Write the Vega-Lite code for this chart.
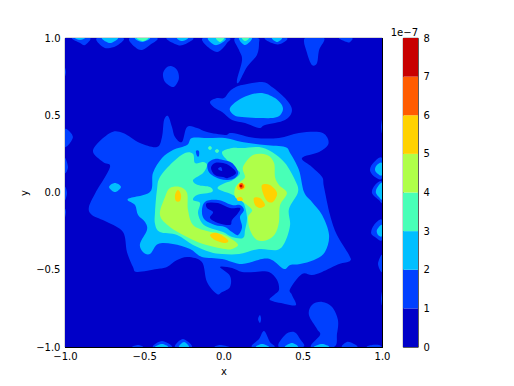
{"$schema":"https://vega.github.io/schema/vega-lite/v6.json","autosize":{"type":"pad"},"padding":{"left":19,"top":27,"right":60,"bottom":10},"background":"white","bounds":"flush","spacing":21,"config":{"font":"DejaVu Sans","view":{"stroke":"#000","strokeWidth":0.8}},
"hconcat":[{"width":317,"height":309,
"data":{"values":[
{"c":0,"l":0,"x":-1,"y":-1},{"c":0,"l":0,"x":-1,"y":1},{"c":0,"l":0,"x":1,"y":1},{"c":0,"l":0,"x":1,"y":-1},
{"c":1,"l":1,"x":-0.823,"y":0.275},{"c":1,"l":1,"x":-0.716,"y":0.385},{"c":1,"l":1,"x":-0.634,"y":0.385},{"c":1,"l":1,"x":-0.527,"y":0.32},{"c":1,"l":1,"x":-0.42,"y":0.294},{"c":1,"l":1,"x":-0.388,"y":0.359},{"c":1,"l":1,"x":-0.375,"y":0.469},{"c":1,"l":1,"x":-0.35,"y":0.495},{"c":1,"l":1,"x":-0.325,"y":0.424},{"c":1,"l":1,"x":-0.306,"y":0.359},{"c":1,"l":1,"x":-0.262,"y":0.327},{"c":1,"l":1,"x":-0.23,"y":0.424},{"c":1,"l":1,"x":-0.167,"y":0.417},{"c":1,"l":1,"x":-0.104,"y":0.391},{"c":1,"l":1,"x":0.009,"y":0.372},{"c":1,"l":1,"x":0.054,"y":0.385},{"c":1,"l":1,"x":0.199,"y":0.353},{"c":1,"l":1,"x":0.35,"y":0.353},{"c":1,"l":1,"x":0.476,"y":0.385},{"c":1,"l":1,"x":0.603,"y":0.391},{"c":1,"l":1,"x":0.653,"y":0.359},{"c":1,"l":1,"x":0.659,"y":0.307},{"c":1,"l":1,"x":0.603,"y":0.262},{"c":1,"l":1,"x":0.495,"y":0.223},{"c":1,"l":1,"x":0.558,"y":0.165},{"c":1,"l":1,"x":0.622,"y":0.1},{"c":1,"l":1,"x":0.634,"y":0.036},{"c":1,"l":1,"x":0.672,"y":-0.146},{"c":1,"l":1,"x":0.716,"y":-0.275},{"c":1,"l":1,"x":0.792,"y":-0.404},{"c":1,"l":1,"x":0.798,"y":-0.443},{"c":1,"l":1,"x":0.729,"y":-0.463},{"c":1,"l":1,"x":0.622,"y":-0.514},{"c":1,"l":1,"x":0.558,"y":-0.534},{"c":1,"l":1,"x":0.495,"y":-0.527},{"c":1,"l":1,"x":0.42,"y":-0.624},{"c":1,"l":1,"x":0.432,"y":-0.663},{"c":1,"l":1,"x":0.457,"y":-0.728},{"c":1,"l":1,"x":0.388,"y":-0.721},{"c":1,"l":1,"x":0.293,"y":-0.696},{"c":1,"l":1,"x":0.319,"y":-0.663},{"c":1,"l":1,"x":0.35,"y":-0.631},{"c":1,"l":1,"x":0.338,"y":-0.566},{"c":1,"l":1,"x":0.287,"y":-0.514},{"c":1,"l":1,"x":0.199,"y":-0.514},{"c":1,"l":1,"x":0.117,"y":-0.514},{"c":1,"l":1,"x":0.054,"y":-0.488},{"c":1,"l":1,"x":-0.022,"y":-0.482},{"c":1,"l":1,"x":0.041,"y":-0.54},{"c":1,"l":1,"x":0.041,"y":-0.611},{"c":1,"l":1,"x":-0.009,"y":-0.644},{"c":1,"l":1,"x":-0.041,"y":-0.657},{"c":1,"l":1,"x":-0.104,"y":-0.579},{"c":1,"l":1,"x":-0.136,"y":-0.45},{"c":1,"l":1,"x":-0.224,"y":-0.417},{"c":1,"l":1,"x":-0.293,"y":-0.437},{"c":1,"l":1,"x":-0.357,"y":-0.482},{"c":1,"l":1,"x":-0.42,"y":-0.495},{"c":1,"l":1,"x":-0.546,"y":-0.514},{"c":1,"l":1,"x":-0.571,"y":-0.482},{"c":1,"l":1,"x":-0.609,"y":-0.385},{"c":1,"l":1,"x":-0.634,"y":-0.256},{"c":1,"l":1,"x":-0.735,"y":-0.191},{"c":1,"l":1,"x":-0.83,"y":-0.146},{"c":1,"l":1,"x":-0.849,"y":-0.094},{"c":1,"l":1,"x":-0.805,"y":0.003},{"c":1,"l":1,"x":-0.798,"y":0.016},{"c":1,"l":1,"x":-0.716,"y":0.165},{"c":1,"l":1,"x":-0.76,"y":0.197},
{"c":2,"l":1,"x":-0.085,"y":0.586},{"c":2,"l":1,"x":-0.041,"y":0.611},{"c":2,"l":1,"x":0.003,"y":0.611},{"c":2,"l":1,"x":0.035,"y":0.65},{"c":2,"l":1,"x":0.066,"y":0.676},{"c":2,"l":1,"x":0.117,"y":0.696},{"c":2,"l":1,"x":0.243,"y":0.715},{"c":2,"l":1,"x":0.306,"y":0.683},{"c":2,"l":1,"x":0.388,"y":0.611},{"c":2,"l":1,"x":0.432,"y":0.534},{"c":2,"l":1,"x":0.388,"y":0.469},{"c":2,"l":1,"x":0.262,"y":0.437},{"c":2,"l":1,"x":0.224,"y":0.417},{"c":2,"l":1,"x":0.136,"y":0.45},{"c":2,"l":1,"x":0.054,"y":0.469},{"c":2,"l":1,"x":-0.009,"y":0.521},{"c":2,"l":1,"x":-0.054,"y":0.547},
{"c":3,"l":1,"x":0.073,"y":1},{"c":3,"l":1,"x":0.098,"y":0.922},{"c":3,"l":1,"x":0.117,"y":0.857},{"c":3,"l":1,"x":0.085,"y":0.728},{"c":3,"l":1,"x":0.098,"y":0.715},{"c":3,"l":1,"x":0.148,"y":0.812},{"c":3,"l":1,"x":0.211,"y":0.89},{"c":3,"l":1,"x":0.224,"y":0.967},{"c":3,"l":1,"x":0.211,"y":1},
{"c":4,"l":1,"x":0.514,"y":1},{"c":4,"l":1,"x":0.527,"y":0.903},{"c":4,"l":1,"x":0.558,"y":0.825},{"c":4,"l":1,"x":0.59,"y":0.838},{"c":4,"l":1,"x":0.603,"y":0.922},{"c":4,"l":1,"x":0.634,"y":1},
{"c":5,"l":1,"x":0.262,"y":1},{"c":5,"l":1,"x":0.306,"y":0.967},{"c":5,"l":1,"x":0.357,"y":0.961},{"c":5,"l":1,"x":0.4,"y":1},
{"c":6,"l":1,"x":0.729,"y":1},{"c":6,"l":1,"x":0.779,"y":0.974},{"c":6,"l":1,"x":0.798,"y":0.974},{"c":6,"l":1,"x":0.811,"y":1},
{"c":7,"l":1,"x":-0.956,"y":1},{"c":7,"l":1,"x":-0.905,"y":0.967},{"c":7,"l":1,"x":-0.874,"y":0.954},{"c":7,"l":1,"x":-0.842,"y":1},
{"c":8,"l":1,"x":-0.798,"y":1},{"c":8,"l":1,"x":-0.76,"y":0.941},{"c":8,"l":1,"x":-0.716,"y":0.935},{"c":8,"l":1,"x":-0.666,"y":0.954},{"c":8,"l":1,"x":-0.634,"y":1},
{"c":9,"l":1,"x":-0.59,"y":1},{"c":9,"l":1,"x":-0.558,"y":0.941},{"c":9,"l":1,"x":-0.514,"y":0.922},{"c":9,"l":1,"x":-0.464,"y":0.954},{"c":9,"l":1,"x":-0.42,"y":1},
{"c":10,"l":1,"x":-0.357,"y":1},{"c":10,"l":1,"x":-0.306,"y":0.961},{"c":10,"l":1,"x":-0.256,"y":0.954},{"c":10,"l":1,"x":-0.192,"y":1},
{"c":11,"l":1,"x":-0.129,"y":1},{"c":11,"l":1,"x":-0.098,"y":0.941},{"c":11,"l":1,"x":-0.041,"y":0.909},{"c":11,"l":1,"x":-0.003,"y":0.935},{"c":11,"l":1,"x":0.022,"y":0.967},{"c":11,"l":1,"x":0.035,"y":1},
{"c":12,"l":1,"x":-0.331,"y":0.818},{"c":12,"l":1,"x":-0.293,"y":0.793},{"c":12,"l":1,"x":-0.281,"y":0.741},{"c":12,"l":1,"x":-0.3,"y":0.696},{"c":12,"l":1,"x":-0.325,"y":0.683},{"c":12,"l":1,"x":-0.369,"y":0.715},{"c":12,"l":1,"x":-0.382,"y":0.767},{"c":12,"l":1,"x":-0.363,"y":0.806},
{"c":13,"l":1,"x":-1,"y":0.411},{"c":13,"l":1,"x":-0.95,"y":0.359},{"c":13,"l":1,"x":-1,"y":0.294},
{"c":14,"l":1,"x":-1,"y":0.223},{"c":14,"l":1,"x":-0.981,"y":0.165},{"c":14,"l":1,"x":-1,"y":0.126},
{"c":15,"l":1,"x":-1,"y":0.036},{"c":15,"l":1,"x":-0.987,"y":-0.003},{"c":15,"l":1,"x":-1,"y":-0.049},
{"c":16,"l":1,"x":-1,"y":-0.107},{"c":16,"l":1,"x":-0.994,"y":-0.126},{"c":16,"l":1,"x":-1,"y":-0.159},
{"c":17,"l":1,"x":-1,"y":0.806},{"c":17,"l":1,"x":-0.994,"y":0.78},{"c":17,"l":1,"x":-1,"y":0.754},
{"c":18,"l":1,"x":1,"y":0.223},{"c":18,"l":1,"x":0.95,"y":0.197},{"c":18,"l":1,"x":0.924,"y":0.146},{"c":18,"l":1,"x":0.956,"y":0.1},{"c":18,"l":1,"x":1,"y":0.094},
{"c":19,"l":1,"x":1,"y":0.068},{"c":19,"l":1,"x":0.956,"y":0.049},{"c":19,"l":1,"x":0.937,"y":-0.003},{"c":19,"l":1,"x":0.981,"y":-0.049},{"c":19,"l":1,"x":1,"y":-0.061},
{"c":20,"l":1,"x":1,"y":-0.178},{"c":20,"l":1,"x":0.95,"y":-0.21},{"c":20,"l":1,"x":0.931,"y":-0.262},{"c":20,"l":1,"x":0.956,"y":-0.288},{"c":20,"l":1,"x":1,"y":-0.307},
{"c":21,"l":1,"x":1,"y":-0.404},{"c":21,"l":1,"x":0.975,"y":-0.463},{"c":21,"l":1,"x":1,"y":-0.514},
{"c":22,"l":1,"x":1,"y":-0.644},{"c":22,"l":1,"x":0.994,"y":-0.689},{"c":22,"l":1,"x":1,"y":-0.728},
{"c":23,"l":1,"x":1,"y":0.469},{"c":23,"l":1,"x":0.994,"y":0.424},{"c":23,"l":1,"x":1,"y":0.385},
{"c":24,"l":1,"x":0.552,"y":-1},{"c":24,"l":1,"x":0.609,"y":-0.922},{"c":24,"l":1,"x":0.59,"y":-0.883},{"c":24,"l":1,"x":0.539,"y":-0.793},{"c":24,"l":1,"x":0.558,"y":-0.728},{"c":24,"l":1,"x":0.622,"y":-0.708},{"c":24,"l":1,"x":0.685,"y":-0.741},{"c":24,"l":1,"x":0.722,"y":-0.825},{"c":24,"l":1,"x":0.716,"y":-0.915},{"c":24,"l":1,"x":0.697,"y":-1},
{"c":25,"l":1,"x":0.18,"y":-1},{"c":25,"l":1,"x":0.224,"y":-0.948},{"c":25,"l":1,"x":0.256,"y":-0.896},{"c":25,"l":1,"x":0.293,"y":-0.967},{"c":25,"l":1,"x":0.319,"y":-1},
{"c":26,"l":1,"x":0.35,"y":-1},{"c":26,"l":1,"x":0.388,"y":-0.922},{"c":26,"l":1,"x":0.445,"y":-0.903},{"c":26,"l":1,"x":0.483,"y":-0.948},{"c":26,"l":1,"x":0.502,"y":-1},
{"c":27,"l":1,"x":0.748,"y":-1},{"c":27,"l":1,"x":0.779,"y":-0.967},{"c":27,"l":1,"x":0.823,"y":-0.98},{"c":27,"l":1,"x":0.842,"y":-1},
{"c":28,"l":1,"x":0.905,"y":-1},{"c":28,"l":1,"x":0.937,"y":-0.987},{"c":28,"l":1,"x":0.981,"y":-0.987},{"c":28,"l":1,"x":0.994,"y":-1},
{"c":29,"l":1,"x":0.23,"y":-0.793},{"c":29,"l":1,"x":0.237,"y":-0.818},{"c":29,"l":1,"x":0.23,"y":-0.844},{"c":29,"l":1,"x":0.218,"y":-0.818},
{"c":30,"l":1,"x":-0.577,"y":-1},{"c":30,"l":1,"x":-0.539,"y":-0.987},{"c":30,"l":1,"x":-0.508,"y":-1},
{"c":31,"l":1,"x":-0.445,"y":-1},{"c":31,"l":1,"x":-0.388,"y":-0.961},{"c":31,"l":1,"x":-0.325,"y":-1},
{"c":32,"l":1,"x":-0.306,"y":-1},{"c":32,"l":1,"x":-0.256,"y":-0.948},{"c":32,"l":1,"x":-0.199,"y":-1},
{"c":33,"l":1,"x":-0.054,"y":-1},{"c":33,"l":1,"x":-0.022,"y":-0.987},{"c":33,"l":1,"x":0.035,"y":-1},
{"c":34,"l":2,"x":0.009,"y":0.353},{"c":34,"l":2,"x":-0.104,"y":0.353},{"c":34,"l":2,"x":-0.199,"y":0.353},{"c":34,"l":2,"x":-0.23,"y":0.307},{"c":34,"l":2,"x":-0.319,"y":0.275},{"c":34,"l":2,"x":-0.388,"y":0.223},{"c":34,"l":2,"x":-0.445,"y":0.126},{"c":34,"l":2,"x":-0.464,"y":0.003},{"c":34,"l":2,"x":-0.603,"y":-0.042},{"c":34,"l":2,"x":-0.558,"y":-0.081},{"c":34,"l":2,"x":-0.539,"y":-0.146},{"c":34,"l":2,"x":-0.495,"y":-0.191},{"c":34,"l":2,"x":-0.483,"y":-0.243},{"c":34,"l":2,"x":-0.527,"y":-0.333},{"c":34,"l":2,"x":-0.508,"y":-0.385},{"c":34,"l":2,"x":-0.464,"y":-0.398},{"c":34,"l":2,"x":-0.413,"y":-0.333},{"c":34,"l":2,"x":-0.319,"y":-0.333},{"c":34,"l":2,"x":-0.211,"y":-0.366},{"c":34,"l":2,"x":-0.136,"y":-0.417},{"c":34,"l":2,"x":-0.009,"y":-0.43},{"c":34,"l":2,"x":0.117,"y":-0.463},{"c":34,"l":2,"x":0.243,"y":-0.43},{"c":34,"l":2,"x":0.306,"y":-0.437},{"c":34,"l":2,"x":0.382,"y":-0.495},{"c":34,"l":2,"x":0.42,"y":-0.469},{"c":34,"l":2,"x":0.483,"y":-0.463},{"c":34,"l":2,"x":0.571,"y":-0.437},{"c":34,"l":2,"x":0.64,"y":-0.385},{"c":34,"l":2,"x":0.666,"y":-0.275},{"c":34,"l":2,"x":0.622,"y":-0.146},{"c":34,"l":2,"x":0.558,"y":-0.061},{"c":34,"l":2,"x":0.508,"y":0.003},{"c":34,"l":2,"x":0.476,"y":0.146},{"c":34,"l":2,"x":0.42,"y":0.256},{"c":34,"l":2,"x":0.388,"y":0.294},{"c":34,"l":2,"x":0.262,"y":0.307},{"c":34,"l":2,"x":0.117,"y":0.327},
{"c":35,"l":2,"x":0.041,"y":0.547},{"c":35,"l":2,"x":0.117,"y":0.611},{"c":35,"l":2,"x":0.23,"y":0.644},{"c":35,"l":2,"x":0.325,"y":0.611},{"c":35,"l":2,"x":0.375,"y":0.547},{"c":35,"l":2,"x":0.338,"y":0.488},{"c":35,"l":2,"x":0.224,"y":0.482},{"c":35,"l":2,"x":0.117,"y":0.488},{"c":35,"l":2,"x":0.066,"y":0.501},
{"c":36,"l":2,"x":-0.767,"y":1},{"c":36,"l":2,"x":-0.716,"y":0.967},{"c":36,"l":2,"x":-0.666,"y":1},
{"c":37,"l":2,"x":-0.558,"y":1},{"c":37,"l":2,"x":-0.514,"y":0.974},{"c":37,"l":2,"x":-0.464,"y":1},
{"c":38,"l":2,"x":-0.293,"y":1},{"c":38,"l":2,"x":-0.262,"y":0.98},{"c":38,"l":2,"x":-0.224,"y":1},
{"c":39,"l":2,"x":-0.098,"y":1},{"c":39,"l":2,"x":-0.054,"y":0.954},{"c":39,"l":2,"x":-0.003,"y":0.974},{"c":39,"l":2,"x":0.009,"y":1},
{"c":40,"l":2,"x":0.098,"y":1},{"c":40,"l":2,"x":0.136,"y":0.954},{"c":40,"l":2,"x":0.18,"y":1},
{"c":41,"l":2,"x":0.306,"y":1},{"c":41,"l":2,"x":0.338,"y":0.974},{"c":41,"l":2,"x":0.369,"y":1},
{"c":42,"l":2,"x":-0.937,"y":1},{"c":42,"l":2,"x":-0.905,"y":0.987},{"c":42,"l":2,"x":-0.874,"y":1},
{"c":43,"l":2,"x":-0.722,"y":0.036},{"c":43,"l":2,"x":-0.685,"y":0.061},{"c":43,"l":2,"x":-0.647,"y":0.036},{"c":43,"l":2,"x":-0.685,"y":0.003},
{"c":44,"l":2,"x":1,"y":0.191},{"c":44,"l":2,"x":0.968,"y":0.178},{"c":44,"l":2,"x":0.956,"y":0.146},{"c":44,"l":2,"x":0.975,"y":0.12},{"c":44,"l":2,"x":1,"y":0.113},
{"c":45,"l":2,"x":1,"y":0.061},{"c":45,"l":2,"x":0.968,"y":0.029},{"c":45,"l":2,"x":0.962,"y":-0.003},{"c":45,"l":2,"x":0.981,"y":-0.029},{"c":45,"l":2,"x":1,"y":-0.042},
{"c":46,"l":2,"x":1,"y":-0.21},{"c":46,"l":2,"x":0.968,"y":-0.243},{"c":46,"l":2,"x":0.975,"y":-0.275},{"c":46,"l":2,"x":1,"y":-0.281},
{"c":47,"l":2,"x":0.205,"y":-1},{"c":47,"l":2,"x":0.243,"y":-0.98},{"c":47,"l":2,"x":0.287,"y":-1},
{"c":48,"l":2,"x":0.388,"y":-1},{"c":48,"l":2,"x":0.432,"y":-0.974},{"c":48,"l":2,"x":0.47,"y":-1},
{"c":49,"l":2,"x":0.571,"y":-1},{"c":49,"l":2,"x":0.622,"y":-0.98},{"c":49,"l":2,"x":0.666,"y":-1},
{"c":50,"l":2,"x":-0.432,"y":-1},{"c":50,"l":2,"x":-0.388,"y":-0.98},{"c":50,"l":2,"x":-0.35,"y":-1},
{"c":51,"l":2,"x":-0.281,"y":-1},{"c":51,"l":2,"x":-0.249,"y":-0.967},{"c":51,"l":2,"x":-0.218,"y":-1},
{"c":52,"l":3,"x":-0.009,"y":0.262},{"c":52,"l":3,"x":0.054,"y":0.288},{"c":52,"l":3,"x":0.117,"y":0.288},{"c":52,"l":3,"x":0.224,"y":0.294},{"c":52,"l":3,"x":0.306,"y":0.262},{"c":52,"l":3,"x":0.388,"y":0.191},{"c":52,"l":3,"x":0.451,"y":0.081},{"c":52,"l":3,"x":0.47,"y":0.003},{"c":52,"l":3,"x":0.413,"y":-0.107},{"c":52,"l":3,"x":0.42,"y":-0.21},{"c":52,"l":3,"x":0.388,"y":-0.32},{"c":52,"l":3,"x":0.338,"y":-0.372},{"c":52,"l":3,"x":0.224,"y":-0.366},{"c":52,"l":3,"x":0.098,"y":-0.398},{"c":52,"l":3,"x":-0.009,"y":-0.398},{"c":52,"l":3,"x":-0.085,"y":-0.385},{"c":52,"l":3,"x":-0.192,"y":-0.34},{"c":52,"l":3,"x":-0.293,"y":-0.275},{"c":52,"l":3,"x":-0.401,"y":-0.256},{"c":52,"l":3,"x":-0.432,"y":-0.204},{"c":52,"l":3,"x":-0.432,"y":-0.126},{"c":52,"l":3,"x":-0.42,"y":0.016},{"c":52,"l":3,"x":-0.401,"y":0.1},{"c":52,"l":3,"x":-0.319,"y":0.197},{"c":52,"l":3,"x":-0.243,"y":0.256},{"c":52,"l":3,"x":-0.192,"y":0.249},{"c":52,"l":3,"x":-0.18,"y":0.191},{"c":52,"l":3,"x":-0.129,"y":0.197},{"c":52,"l":3,"x":-0.104,"y":0.178},{"c":52,"l":3,"x":-0.129,"y":0.126},{"c":52,"l":3,"x":-0.192,"y":0.081},{"c":52,"l":3,"x":-0.161,"y":0.049},{"c":52,"l":3,"x":-0.085,"y":0.036},{"c":52,"l":3,"x":-0.073,"y":0.003},{"c":52,"l":3,"x":-0.167,"y":-0.016},{"c":52,"l":3,"x":-0.192,"y":-0.049},{"c":52,"l":3,"x":-0.148,"y":-0.068},{"c":52,"l":3,"x":-0.161,"y":-0.133},{"c":52,"l":3,"x":-0.136,"y":-0.197},{"c":52,"l":3,"x":-0.085,"y":-0.23},{"c":52,"l":3,"x":-0.003,"y":-0.256},{"c":52,"l":3,"x":0.054,"y":-0.288},{"c":52,"l":3,"x":0.123,"y":-0.294},{"c":52,"l":3,"x":0.136,"y":-0.243},{"c":52,"l":3,"x":0.148,"y":-0.159},{"c":52,"l":3,"x":0.123,"y":-0.061},{"c":52,"l":3,"x":0.06,"y":-0.016},{"c":52,"l":3,"x":-0.022,"y":0.016},{"c":52,"l":3,"x":-0.035,"y":0.036},{"c":52,"l":3,"x":0.009,"y":0.061},{"c":52,"l":3,"x":0.06,"y":0.081},{"c":52,"l":3,"x":0.104,"y":0.126},{"c":52,"l":3,"x":0.06,"y":0.165},{"c":52,"l":3,"x":0.022,"y":0.21},
{"c":53,"l":3,"x":-0.085,"y":0.301},{"c":53,"l":3,"x":-0.073,"y":0.288},{"c":53,"l":3,"x":-0.085,"y":0.275},{"c":53,"l":3,"x":-0.098,"y":0.288},
{"c":54,"l":3,"x":-0.041,"y":0.281},{"c":54,"l":3,"x":-0.028,"y":0.269},{"c":54,"l":3,"x":-0.041,"y":0.256},{"c":54,"l":3,"x":-0.054,"y":0.269},
{"c":55,"l":3,"x":-0.546,"y":1},{"c":55,"l":3,"x":-0.508,"y":0.98},{"c":55,"l":3,"x":-0.476,"y":1},
{"c":56,"l":3,"x":-0.047,"y":1},{"c":56,"l":3,"x":-0.022,"y":0.974},{"c":56,"l":3,"x":0.003,"y":1},
{"c":57,"l":3,"x":0.117,"y":1},{"c":57,"l":3,"x":0.136,"y":0.98},{"c":57,"l":3,"x":0.161,"y":1},
{"c":58,"l":1,"x":-0.098,"y":0.191},{"c":58,"l":1,"x":-0.054,"y":0.217},{"c":58,"l":1,"x":-0.003,"y":0.21},{"c":58,"l":1,"x":0.054,"y":0.191},{"c":58,"l":1,"x":0.092,"y":0.133},{"c":58,"l":1,"x":0.073,"y":0.094},{"c":58,"l":1,"x":0.028,"y":0.081},{"c":58,"l":1,"x":-0.022,"y":0.087},{"c":58,"l":1,"x":-0.073,"y":0.113},{"c":58,"l":1,"x":-0.098,"y":0.146},
{"c":59,"l":0,"x":-0.079,"y":0.159},{"c":59,"l":0,"x":-0.054,"y":0.191},{"c":59,"l":0,"x":-0.003,"y":0.191},{"c":59,"l":0,"x":0.041,"y":0.171},{"c":59,"l":0,"x":0.079,"y":0.126},{"c":59,"l":0,"x":0.028,"y":0.094},{"c":59,"l":0,"x":-0.003,"y":0.1},{"c":59,"l":0,"x":-0.054,"y":0.113},
{"c":60,"l":1,"x":-0.035,"y":0.152},{"c":60,"l":1,"x":-0.016,"y":0.165},{"c":60,"l":1,"x":-0.009,"y":0.139},
{"c":61,"l":1,"x":-0.117,"y":-0.061},{"c":61,"l":1,"x":-0.035,"y":-0.049},{"c":61,"l":1,"x":0.054,"y":-0.081},{"c":61,"l":1,"x":0.104,"y":-0.081},{"c":61,"l":1,"x":0.129,"y":-0.113},{"c":61,"l":1,"x":0.104,"y":-0.159},{"c":61,"l":1,"x":0.117,"y":-0.223},{"c":61,"l":1,"x":0.092,"y":-0.275},{"c":61,"l":1,"x":0.054,"y":-0.256},{"c":61,"l":1,"x":0.009,"y":-0.223},{"c":61,"l":1,"x":-0.054,"y":-0.21},{"c":61,"l":1,"x":-0.117,"y":-0.178},{"c":61,"l":1,"x":-0.136,"y":-0.126},
{"c":62,"l":0,"x":-0.104,"y":-0.068},{"c":62,"l":0,"x":-0.035,"y":-0.068},{"c":62,"l":0,"x":0.041,"y":-0.1},{"c":62,"l":0,"x":0.104,"y":-0.1},{"c":62,"l":0,"x":0.092,"y":-0.133},{"c":62,"l":0,"x":0.054,"y":-0.178},{"c":62,"l":0,"x":0.041,"y":-0.21},{"c":62,"l":0,"x":-0.035,"y":-0.197},{"c":62,"l":0,"x":-0.085,"y":-0.165},{"c":62,"l":0,"x":-0.066,"y":-0.126},{"c":62,"l":0,"x":-0.104,"y":-0.1},
{"c":63,"l":1,"x":-0.174,"y":0.269},{"c":63,"l":1,"x":-0.155,"y":0.269},{"c":63,"l":1,"x":-0.155,"y":0.236},{"c":63,"l":1,"x":-0.167,"y":0.236},
{"c":64,"l":4,"x":0.123,"y":0.165},{"c":64,"l":4,"x":0.186,"y":0.243},{"c":64,"l":4,"x":0.275,"y":0.243},{"c":64,"l":4,"x":0.319,"y":0.191},{"c":64,"l":4,"x":0.325,"y":0.1},{"c":64,"l":4,"x":0.35,"y":0.049},{"c":64,"l":4,"x":0.4,"y":-0.003},{"c":64,"l":4,"x":0.357,"y":-0.081},{"c":64,"l":4,"x":0.35,"y":-0.191},{"c":64,"l":4,"x":0.325,"y":-0.269},{"c":64,"l":4,"x":0.275,"y":-0.307},{"c":64,"l":4,"x":0.211,"y":-0.307},{"c":64,"l":4,"x":0.167,"y":-0.243},{"c":64,"l":4,"x":0.155,"y":-0.159},{"c":64,"l":4,"x":0.18,"y":-0.113},{"c":64,"l":4,"x":0.123,"y":-0.061},{"c":64,"l":4,"x":0.073,"y":-0.029},{"c":64,"l":4,"x":0.073,"y":0.029},{"c":64,"l":4,"x":0.104,"y":0.068},{"c":64,"l":4,"x":0.136,"y":0.1},
{"c":65,"l":4,"x":-0.338,"y":0.029},{"c":65,"l":4,"x":-0.275,"y":0.036},{"c":65,"l":4,"x":-0.23,"y":-0.003},{"c":65,"l":4,"x":-0.224,"y":-0.113},{"c":65,"l":4,"x":-0.192,"y":-0.21},{"c":65,"l":4,"x":-0.104,"y":-0.249},{"c":65,"l":4,"x":-0.009,"y":-0.269},{"c":65,"l":4,"x":0.06,"y":-0.307},{"c":65,"l":4,"x":0.092,"y":-0.34},{"c":65,"l":4,"x":0.054,"y":-0.366},{"c":65,"l":4,"x":0.009,"y":-0.366},{"c":65,"l":4,"x":-0.129,"y":-0.333},{"c":65,"l":4,"x":-0.23,"y":-0.288},{"c":65,"l":4,"x":-0.338,"y":-0.223},{"c":65,"l":4,"x":-0.401,"y":-0.146},{"c":65,"l":4,"x":-0.369,"y":-0.029},
{"c":66,"l":5,"x":-0.287,"y":0.016},{"c":66,"l":5,"x":-0.268,"y":-0.016},{"c":66,"l":5,"x":-0.275,"y":-0.055},{"c":66,"l":5,"x":-0.3,"y":-0.055},{"c":66,"l":5,"x":-0.306,"y":-0.016},
{"c":67,"l":5,"x":-0.085,"y":-0.275},{"c":67,"l":5,"x":-0.041,"y":-0.262},{"c":67,"l":5,"x":0.028,"y":-0.307},{"c":67,"l":5,"x":0.009,"y":-0.327},{"c":67,"l":5,"x":-0.054,"y":-0.307},
{"c":68,"l":5,"x":0.243,"y":0.049},{"c":68,"l":5,"x":0.293,"y":0.049},{"c":68,"l":5,"x":0.338,"y":-0.003},{"c":68,"l":5,"x":0.312,"y":-0.061},{"c":68,"l":5,"x":0.275,"y":-0.055},{"c":68,"l":5,"x":0.249,"y":-0.003},
{"c":69,"l":5,"x":0.192,"y":-0.036},{"c":69,"l":5,"x":0.23,"y":-0.036},{"c":69,"l":5,"x":0.262,"y":-0.081},{"c":69,"l":5,"x":0.23,"y":-0.1},{"c":69,"l":5,"x":0.199,"y":-0.081},
{"c":70,"l":5,"x":0.085,"y":0.036},{"c":70,"l":5,"x":0.104,"y":0.061},{"c":70,"l":5,"x":0.136,"y":0.049},{"c":70,"l":5,"x":0.129,"y":0.023},{"c":70,"l":5,"x":0.098,"y":0.016},
{"c":71,"l":5,"x":0.085,"y":-0.036},{"c":71,"l":5,"x":0.11,"y":-0.029},{"c":71,"l":5,"x":0.123,"y":-0.049},{"c":71,"l":5,"x":0.092,"y":-0.055},
{"c":72,"l":6,"x":0.098,"y":0.049},{"c":72,"l":6,"x":0.117,"y":0.061},{"c":72,"l":6,"x":0.129,"y":0.036},{"c":72,"l":6,"x":0.11,"y":0.023},
{"c":73,"l":7,"x":0.104,"y":0.049},{"c":73,"l":7,"x":0.117,"y":0.049},{"c":73,"l":7,"x":0.117,"y":0.036},{"c":73,"l":7,"x":0.104,"y":0.036}
]},
"layer":[
{"mark":{"type":"line","interpolate":"cardinal-closed","strokeWidth":0,"clip":true},
"encoding":{
"x":{"field":"x","type":"quantitative","title":"x","scale":{"domain":[-1,1],"nice":false,"zero":false},"axis":{"values":[-1,-0.5,0,0.5,1],"format":".1f","grid":false,"tickSize":-4,"tickColor":"#000","domainColor":"#000","labelPadding":8,"labelColor":"#000","labelFontSize":10,"titleFontSize":10,"titleFontWeight":"normal","titleColor":"#000","titlePadding":5,"labelFlush":false}},
"y":{"field":"y","type":"quantitative","title":"y","scale":{"domain":[-1,1],"nice":false,"zero":false},"axis":{"values":[-1,-0.5,0,0.5,1],"format":".1f","grid":false,"tickSize":-4,"tickColor":"#000","domainColor":"#000","labelPadding":9,"labelColor":"#000","labelFontSize":10,"titleFontSize":10,"titleFontWeight":"normal","titleColor":"#000","titlePadding":6}},
"detail":{"field":"c","type":"nominal"},
"order":{"value":null},
"fill":{"field":"l","type":"nominal","legend":null,"scale":{"domain":[0,1,2,3,4,5,6,7],"range":["#0000C8","#0040FF","#00BFFF","#48FFB7","#AFFF49","#FFD200","#FF5C00","#C80000"]}}
}},
{"mark":{"type":"point","opacity":0},
"encoding":{
"x":{"field":"x","type":"quantitative","scale":{"domain":[-1,1],"nice":false,"zero":false},"axis":{"orient":"top","values":[-1,-0.5,0,0.5,1],"labels":false,"title":null,"grid":false,"tickSize":-4,"tickColor":"#000","domainColor":"#000"}},
"y":{"field":"y","type":"quantitative","scale":{"domain":[-1,1],"nice":false,"zero":false},"axis":{"orient":"right","values":[-1,-0.5,0,0.5,1],"labels":false,"title":null,"grid":false,"tickSize":-4,"tickColor":"#000","domainColor":"#000"}}
}}
],
"resolve":{"axis":{"x":"independent","y":"independent"}}
},
{"width":15,"height":309,
"data":{"values":[{"lo":0,"hi":1,"l":0},{"lo":1,"hi":2,"l":1},{"lo":2,"hi":3,"l":2},{"lo":3,"hi":4,"l":3},{"lo":4,"hi":5,"l":4},{"lo":5,"hi":6,"l":5},{"lo":6,"hi":7,"l":6},{"lo":7,"hi":8,"l":7}]},
"title":{"text":"1e−7","anchor":"end","fontSize":10,"fontWeight":"normal","color":"#000","offset":-5,"frame":"group"},
"mark":{"type":"rect"},
"encoding":{
"y":{"field":"lo","type":"quantitative","title":null,"scale":{"domain":[0,8],"nice":false,"zero":false},"axis":{"orient":"right","values":[0,1,2,3,4,5,6,7,8],"format":"d","grid":false,"ticks":false,"domain":false,"labelPadding":5,"labelColor":"#000","labelFontSize":10}},
"y2":{"field":"hi"},
"fill":{"field":"l","type":"nominal","legend":null,"scale":{"domain":[0,1,2,3,4,5,6,7],"range":["#0000C8","#0040FF","#00BFFF","#48FFB7","#AFFF49","#FFD200","#FF5C00","#C80000"]}}
}}
]}
